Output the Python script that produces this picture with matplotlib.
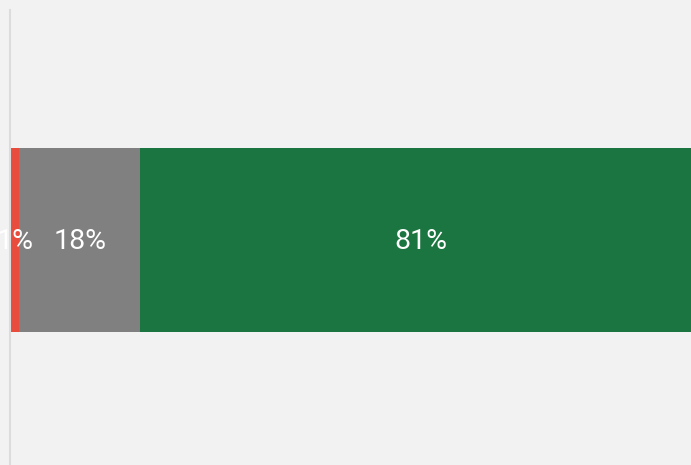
import matplotlib
matplotlib.use("Agg")
import matplotlib.pyplot as plt
from matplotlib.lines import Line2D
from matplotlib.transforms import offset_copy

categories = ["Negative", "Neutral", "Positive"]
values = [1.2, 17.5, 81.3]
labels = ["1%", "18%", "81%"]
colors = ["#e74c3c", "#808080", "#1a7540"]

W, H = 691, 465
fig = plt.figure(figsize=(W / 100, H / 100), dpi=100)
fig.patch.set_facecolor("#f2f2f2")
ax = fig.add_axes([11 / W, 0, 691 / W, 1])
ax.set_facecolor("#f2f2f2")

txt_tr = offset_copy(ax.transData, fig=fig, x=0, y=-1.2, units="points")
left = 0
for v, c, lab in zip(values, colors, labels):
    ax.barh(0, v, left=left, height=0.8, color=c, linewidth=0)
    ax.text(left + v / 2, 0, lab, ha="center", va="center", color="white",
            fontsize=20.5, family="Roboto", transform=txt_tr, clip_on=False)
    left += v

ax.set_xlim(0, sum(values))
ax.set_ylim(-225 / 230, 240 / 230)
ax.axis("off")

fig.add_artist(Line2D([9.5 / W, 9.5 / W], [0, 1 - 10 / H], transform=fig.transFigure,
                      color="#dcdcdc", linewidth=1.5))

fig.savefig("out.png", dpi=100, facecolor=fig.get_facecolor())
